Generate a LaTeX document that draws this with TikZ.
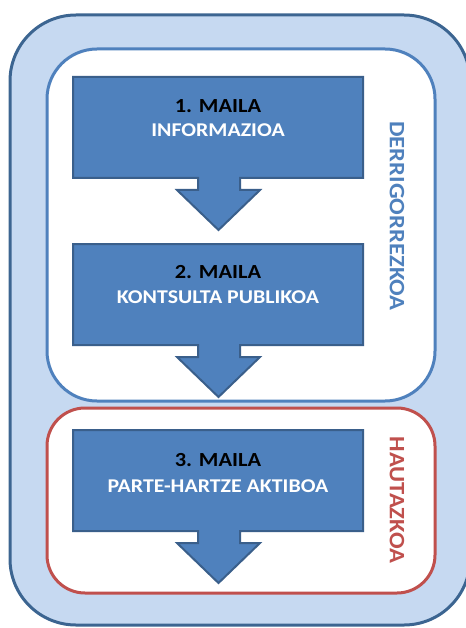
\documentclass[tikz,border=0pt]{standalone}
\usepackage{fontspec}
\setmainfont{Carlito}
\definecolor{outerfill}{HTML}{C6D9F1}
\definecolor{outerline}{HTML}{3C6591}
\definecolor{bluebox}{HTML}{4F81BD}
\definecolor{blueline}{HTML}{3A5F8B}
\definecolor{redline}{HTML}{C0504D}
\tikzset{
  outerbox/.style={draw=outerline, fill=outerfill, line width=3pt, rounded corners=66pt},
  bluegroup/.style={draw=bluebox, fill=white, line width=3pt, rounded corners=50pt},
  redgroup/.style={draw=redline, fill=white, line width=3pt, rounded corners=38pt},
  levelarrow/.style={draw=blueline, fill=bluebox, line width=2pt, line join=miter},
  titletext/.style={anchor=base, inner sep=0pt, font=\fontsize{20}{22}\selectfont\bfseries, text=black},
  subtext/.style={anchor=base, inner sep=0pt, font=\fontsize{19.5}{22}\selectfont\bfseries, text=white},
  sidetext/.style={anchor=center, inner sep=0pt, rotate=-90, font=\fontsize{22}{24}\selectfont\bfseries}
}
\newcommand{\wide}[1]{\scalebox{1.12}[1]{#1}}
\begin{document}
\begin{tikzpicture}[x=1pt,y=-1pt]
\useasboundingbox (0,0) rectangle (465,628);
% outer container
\draw[outerbox] (10,15) rectangle (470,625);
% group boxes
\draw[bluegroup] (47,49) rectangle (435,401);
\draw[redgroup] (47,408) rectangle (435,593);
% level arrows
\foreach \t/\n in {77/a1,244/a2,430/a3}{
  \draw[levelarrow] (73,\t) -- (363,\t) -- (363,\t+101) -- (240,\t+101) -- (240,\t+113)
    -- (260,\t+113) -- (218.5,\t+153) -- (177,\t+113) -- (198,\t+113) -- (198,\t+101)
    -- (73,\t+101) -- cycle;
  \coordinate (\n) at (218,\t);
}
% texts
\node[titletext] (t1) at (218,113) {\wide{1. MAILA}};
\node[subtext] (s1) at (218,137) {\wide{INFORMAZIOA}};
\node[titletext] (t2) at (218,278) {\wide{2. MAILA}};
\node[subtext] (s2) at (218,303) {\wide{KONTSULTA PUBLIKOA}};
\node[titletext] (t3) at (218,466) {\wide{3. MAILA}};
\node[subtext] (s3) at (218,492) {\wide{PARTE-HARTZE AKTIBOA}};
\node[sidetext, text=bluebox] (d) at (397,216) {\scalebox{1.12}[1]{DERRIGORREZKOA}};
\node[sidetext, text=redline] (h) at (397,500) {\scalebox{1.12}[1]{HAUTAZKOA}};
\end{tikzpicture}
\end{document}
